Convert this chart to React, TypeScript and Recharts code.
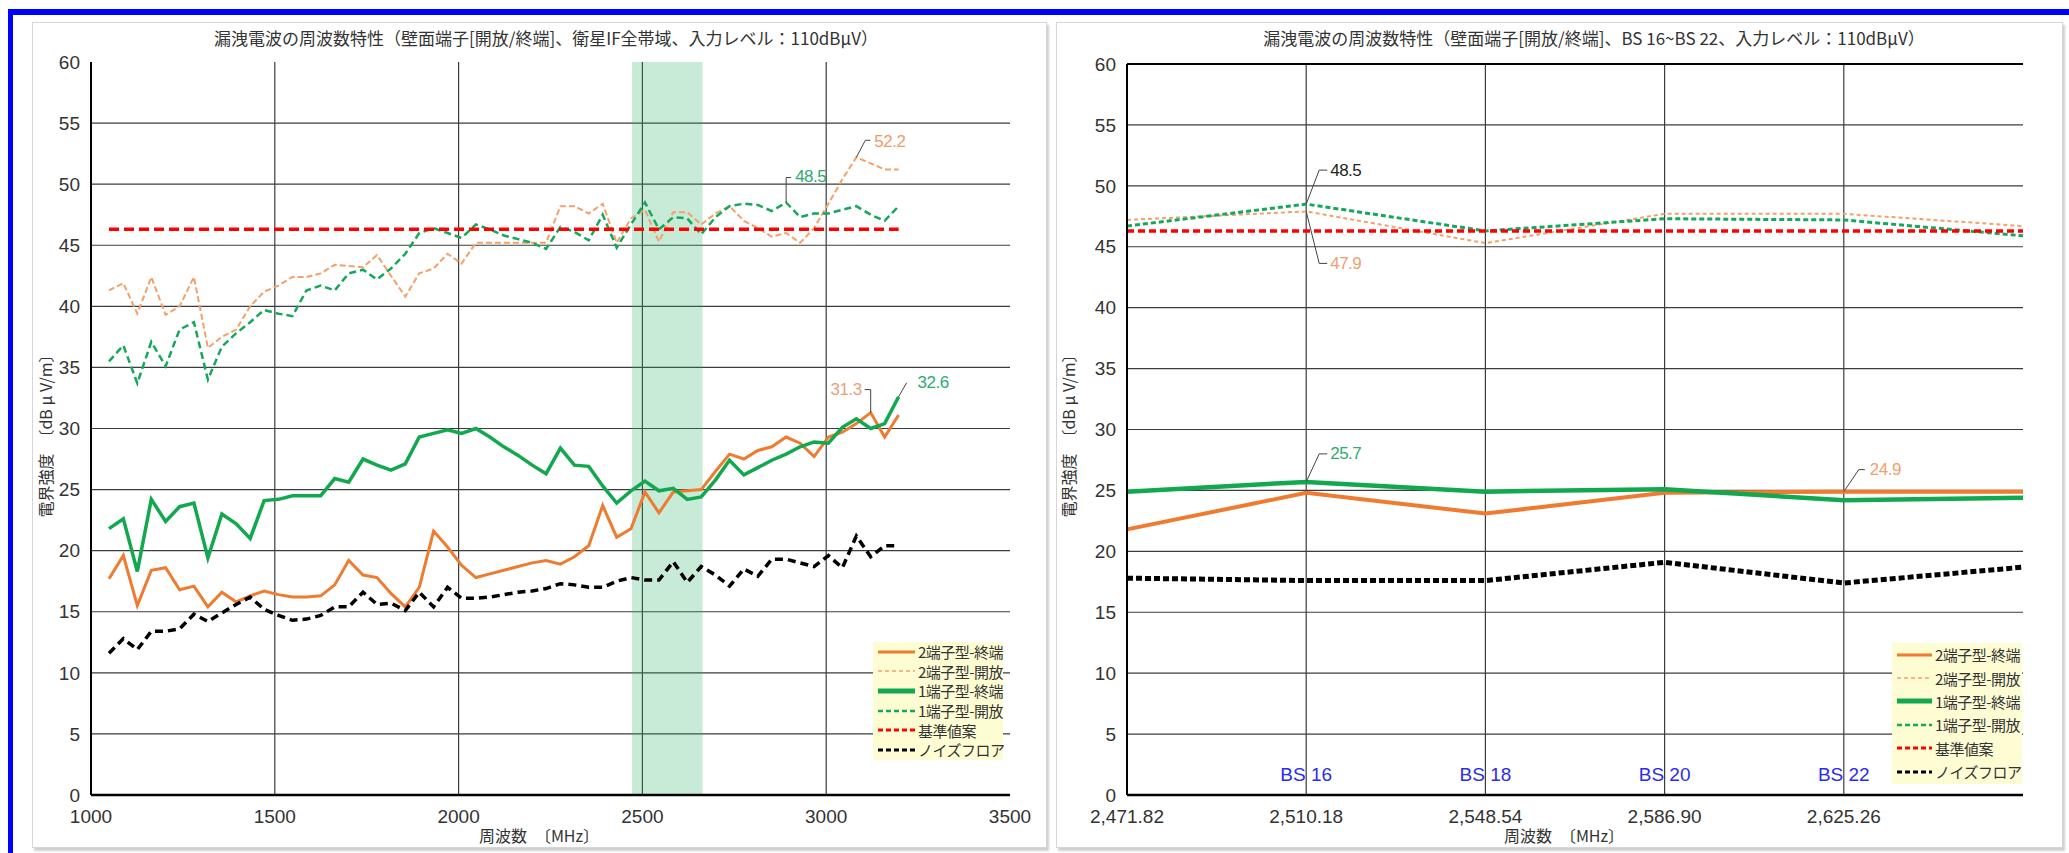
import { LineChart, Line, XAxis, YAxis, CartesianGrid, ReferenceArea, ReferenceDot, ReferenceLine, Legend } from 'recharts'

const JP = '"Noto Sans CJK JP", "Noto Sans", sans-serif'
const NUM = '"Liberation Sans", Arial, sans-serif'

// 衛星IF全帯域 (左グラフ) 測定周波数 MHz
const leftFreq = [1049, 1088, 1126, 1164, 1203, 1241, 1280, 1318, 1356, 1395, 1433, 1471, 1510, 1548, 1586, 1625, 1663, 1701, 1740, 1778, 1816, 1855, 1893, 1932, 1970, 2008, 2047, 2085, 2123, 2162, 2200, 2238, 2277, 2315, 2354, 2392, 2430, 2469, 2507, 2545, 2584, 2622, 2660, 2699, 2737, 2776, 2814, 2852, 2891, 2929, 2967, 3006, 3044, 3082, 3121, 3159, 3197]
const leftTerm2 = [17.7, 19.6, 15.5, 18.4, 18.6, 16.8, 17.1, 15.4, 16.6, 15.8, 16.3, 16.7, 16.4, 16.2, 16.2, 16.3, 17.2, 19.2, 18.0, 17.8, 16.5, 15.4, 17.0, 21.6, 20.3, 18.8, 17.8, 18.1, 18.4, 18.7, 19.0, 19.2, 18.9, 19.5, 20.4, 23.7, 21.1, 21.8, 24.8, 23.1, 24.8, 24.9, 25.0, 26.5, 27.9, 27.5, 28.2, 28.5, 29.3, 28.8, 27.7, 29.3, 29.7, 30.4, 31.3, 29.3, 31.1]
const leftOpen2 = [41.3, 41.9, 39.4, 42.4, 39.3, 40.0, 42.4, 36.6, 37.5, 38.1, 40.0, 41.2, 41.7, 42.4, 42.4, 42.7, 43.4, 43.3, 43.2, 44.2, 42.5, 40.8, 42.7, 43.1, 44.3, 43.5, 45.2, 45.2, 45.2, 45.2, 45.2, 45.2, 48.2, 48.2, 47.6, 48.4, 45.2, 47.2, 47.9, 45.3, 47.7, 47.7, 46.7, 47.6, 48.2, 47.0, 46.4, 45.7, 46.0, 45.2, 46.4, 48.4, 50.4, 52.2, 51.7, 51.2, 51.2]
const leftTerm1 = [21.8, 22.6, 18.3, 24.2, 22.4, 23.6, 23.9, 19.4, 23.0, 22.2, 21.0, 24.1, 24.2, 24.5, 24.5, 24.5, 25.9, 25.6, 27.5, 27.0, 26.6, 27.1, 29.3, 29.6, 29.9, 29.6, 30.0, 29.3, 28.5, 27.8, 27.0, 26.3, 28.4, 27.0, 26.9, 25.3, 23.9, 24.9, 25.7, 24.9, 25.1, 24.2, 24.4, 25.8, 27.4, 26.2, 26.8, 27.4, 27.9, 28.5, 28.9, 28.8, 30.1, 30.8, 30.0, 30.4, 32.6]
const leftOpen1 = [35.5, 36.8, 33.7, 37.1, 35.1, 38.1, 38.7, 34.0, 36.7, 37.8, 38.7, 39.7, 39.4, 39.2, 41.3, 41.7, 41.3, 42.7, 43.0, 42.2, 43.1, 44.3, 46.0, 46.4, 46.0, 45.6, 46.7, 46.3, 45.8, 45.5, 45.2, 44.7, 46.5, 46.1, 45.4, 47.5, 44.8, 46.7, 48.5, 46.3, 47.3, 47.2, 45.9, 47.3, 48.2, 48.4, 48.3, 47.8, 48.5, 47.3, 47.6, 47.6, 47.9, 48.2, 47.5, 47.0, 48.2]
const leftNoise = [11.6, 12.8, 11.9, 13.4, 13.4, 13.6, 14.8, 14.2, 14.9, 15.6, 16.2, 15.2, 14.7, 14.3, 14.4, 14.7, 15.4, 15.4, 16.6, 15.6, 15.7, 15.1, 16.6, 15.4, 17.0, 16.1, 16.1, 16.2, 16.4, 16.6, 16.7, 16.9, 17.3, 17.2, 17.0, 17.0, 17.5, 17.8, 17.6, 17.6, 19.1, 17.4, 18.7, 18.0, 17.1, 18.5, 17.9, 19.3, 19.3, 19.0, 18.7, 19.6, 18.6, 21.2, 19.5, 20.4, 20.4]
const standardLevel = 46.3

// BS 16〜BS 22 (右グラフ)
const rightFreq = [2471.82, 2510.18, 2548.54, 2586.9, 2625.26, 2663.62]
const rightTerm2 = [21.8, 24.8, 23.1, 24.8, 24.9, 24.9]
const rightOpen2 = [47.2, 47.9, 45.3, 47.7, 47.7, 46.7]
const rightTerm1 = [24.9, 25.7, 24.9, 25.1, 24.2, 24.4]
const rightOpen1 = [46.7, 48.5, 46.3, 47.3, 47.2, 45.9]
const rightNoise = [17.8, 17.6, 17.6, 19.1, 17.4, 18.7]

const leftTicks = [1000, 1500, 2000, 2500, 3000, 3500]
const leftGridX = [1500, 2000, 2500, 3000]
const rightTicks = [2471.82, 2510.18, 2548.54, 2586.9, 2625.26]
const rightTickLabels = ['2,471.82', '2,510.18', '2,548.54', '2,586.90', '2,625.26']
const bsNames = ['BS 16', 'BS 18', 'BS 20', 'BS 22']
const bsFreq = [2510.18, 2548.54, 2586.9, 2625.26]
const bsLabelLevel = 1.65
const yTicks = [0, 5, 10, 15, 20, 25, 30, 35, 40, 45, 50, 55, 60]
const bandRange = [2471.82, 2663.62]

const seriesNames = ['2端子型-終端', '2端子型-開放', '1端子型-終端', '1端子型-開放', '基準値案', 'ノイズフロア']
const seriesKeys = ['term2', 'open2', 'term1', 'open1', 'std', 'noise']
const seriesColors = ['#EE7B30', '#F3A06A', '#12A84F', '#13A85C', '#FF0000', '#000000']

const leftStyle = [
  { w: 3, dash: undefined },
  { w: 2, dash: '6 3' },
  { w: 3.5, dash: undefined },
  { w: 2.5, dash: '7 4' },
  { w: 3.5, dash: '10 5' },
  { w: 3.5, dash: '8 5' },
]
const rightStyle = [
  { w: 4, dash: undefined },
  { w: 2, dash: '4 3' },
  { w: 4.5, dash: undefined },
  { w: 3, dash: '5 3' },
  { w: 3.5, dash: '7 4' },
  { w: 5, dash: '6 3' },
]
const legendStyle = [
  { w: 3, dash: undefined },
  { w: 1.5, dash: '4 3' },
  { w: 5, dash: undefined },
  { w: 2.5, dash: '5 3' },
  { w: 3, dash: '5 3' },
  { w: 3, dash: '5 3' },
]

const leftData = leftFreq.map((f, i) => ({
  f,
  term2: leftTerm2[i],
  open2: leftOpen2[i],
  term1: leftTerm1[i],
  open1: leftOpen1[i],
  std: standardLevel,
  noise: leftNoise[i],
}))

const rightData = rightFreq.map((f, i) => ({
  f,
  term2: rightTerm2[i],
  open2: rightOpen2[i],
  term1: rightTerm1[i],
  open1: rightOpen1[i],
  std: standardLevel,
  noise: rightNoise[i],
}))

const tickStyle = { fontSize: 19, fill: '#333', fontFamily: NUM }

// 引き出し線付きのデータラベル
const callout = (text: string, color: string, pts: number[][], tx: number, ty: number, anchor: 'start' | 'end' = 'start') =>
  (p: any) => {
    const cx = p.cx, cy = p.cy
    const d = pts.map((q, i) => `${i ? 'L' : 'M'}${cx + q[0]},${cy + q[1]}`).join(' ')
    return (
      <g>
        <path d={d} stroke="#444" strokeWidth={1} fill="none" />
        <text x={cx + tx} y={cy + ty} fill={color} fontSize={17} fontFamily={NUM} textAnchor={anchor} dominantBaseline="central" letterSpacing={-0.5}>
          {text}
        </text>
      </g>
    )
  }

const bsLabel = (name: string) => (p: any) => (
  <text x={p.cx} y={p.cy} fill="#2B2BEE" fontSize={19} fontFamily={NUM} textAnchor="middle" dominantBaseline="central">
    {name}
  </text>
)

function LegendBox({ rowH, sampleW }: { rowH: number; sampleW: number }) {
  return (
    <div style={{ background: '#FDFCD3', paddingLeft: 5, height: '100%', boxSizing: 'border-box' }}>
      {seriesNames.map((name, i) => (
        <div key={name} style={{ display: 'flex', alignItems: 'center', height: rowH }}>
          <svg width={sampleW} height={8} style={{ flex: 'none' }}>
            <line x1={0} y1={4} x2={sampleW} y2={4} stroke={seriesColors[i]} strokeWidth={legendStyle[i].w} strokeDasharray={legendStyle[i].dash} />
          </svg>
          <span style={{ marginLeft: 3, fontSize: 15, fontFamily: JP, color: '#333', whiteSpace: 'nowrap', letterSpacing: -0.5 }}>{name}</span>
        </div>
      ))}
    </div>
  )
}

const title = (text: string, cx: number) => (
  <div style={{ position: 'absolute', left: cx, top: 37, transform: 'translate(-50%, -50%)', fontFamily: JP, fontSize: 17, color: '#333', whiteSpace: 'nowrap' }}>{text}</div>
)
const xLabel = (cx: number) => (
  <div style={{ position: 'absolute', left: cx, top: 835, transform: 'translate(-50%, -50%)', fontFamily: JP, fontSize: 16, color: '#333', whiteSpace: 'nowrap' }}>周波数　〔MHz〕</div>
)
const yLabel = (cx: number) => (
  <div style={{ position: 'absolute', left: cx, top: 432, transform: 'translate(-50%, -50%) rotate(-90deg)', fontFamily: JP, fontSize: 16, color: '#333', whiteSpace: 'nowrap' }}>電界強度　〔dB μ V/m〕</div>
)

export default function App() {
  return (
    <div style={{ position: 'relative', width: 2069, height: 853, background: '#fff', overflow: 'hidden' }}>
      <style>{'body{margin:0}'}</style>
      <div style={{ position: 'absolute', left: 8, top: 9, width: 2061, height: 6, background: '#0000FF' }} />
      <div style={{ position: 'absolute', left: 8, top: 9, width: 5, height: 844, background: '#0000FF' }} />
      <div style={{ position: 'absolute', left: 32, top: 22, width: 1013, height: 824, border: '1px solid #d6d6d6', boxShadow: '2px 3px 2px #cfcfcf' }} />
      <div style={{ position: 'absolute', left: 1056, top: 22, width: 1005, height: 824, border: '1px solid #d6d6d6', boxShadow: '2px 3px 2px #cfcfcf' }} />

      <div style={{ position: 'absolute', left: 0, top: 0 }}>
        <LineChart width={1050} height={853} data={leftData} margin={{ top: 62, right: 40, bottom: 18, left: 31 }}>
          <CartesianGrid stroke="#3c3c3c" strokeWidth={1.2} horizontalValues={yTicks.slice(1, -1)} verticalValues={leftGridX} />
          <ReferenceArea x1={bandRange[0]} x2={bandRange[1]} fill="#22B062" fillOpacity={0.25} stroke="none" />
          <XAxis dataKey="f" type="number" domain={[1000, 3500]} ticks={leftTicks} tickLine={false} tickMargin={9} height={40} axisLine={{ stroke: '#000', strokeWidth: 2.5 }} tick={tickStyle} />
          <YAxis type="number" domain={[0, 60]} ticks={yTicks} tickLine={false} tickMargin={5} width={60} axisLine={{ stroke: '#000', strokeWidth: 2 }} tick={tickStyle} />
          {seriesKeys.map((k, i) => (
            <Line key={k} dataKey={k} name={seriesNames[i]} type="linear" stroke={seriesColors[i]} strokeWidth={leftStyle[i].w} strokeDasharray={leftStyle[i].dash} dot={false} activeDot={false} isAnimationActive={false} />
          ))}
          <ReferenceDot x={leftFreq[53]} y={leftOpen2[53]} r={2} shape={callout(leftOpen2[53].toFixed(1), '#F29A64', [[0, 0], [9, -17], [14, -17]], 18, -16)} />
          <ReferenceDot x={leftFreq[48]} y={leftOpen1[48]} r={2} shape={callout(leftOpen1[48].toFixed(1), '#2DAA72', [[0, 0], [0, -25], [5, -25]], 9, -26)} />
          <ReferenceDot x={leftFreq[54]} y={leftTerm2[54]} r={2} shape={callout(leftTerm2[54].toFixed(1), '#E8A080', [[0, 0], [0, -23], [-6, -23]], -9, -23, 'end')} />
          <ReferenceDot x={leftFreq[56]} y={leftTerm1[56]} r={2} shape={callout(leftTerm1[56].toFixed(1), '#2DAA72', [[0, 0], [8, -14]], 19, -14)} />
          <Legend layout="vertical" align="center" verticalAlign="middle" wrapperStyle={{ left: 873, top: 642, width: 130, height: 118 }} content={() => <LegendBox rowH={19.6} sampleW={37} />} />
        </LineChart>
      </div>

      <div style={{ position: 'absolute', left: 1050, top: 0 }}>
        <LineChart width={1019} height={853} data={rightData} margin={{ top: 64, right: 46, bottom: 18, left: 17 }}>
          <CartesianGrid stroke="#3c3c3c" strokeWidth={1.2} horizontalValues={yTicks.slice(1)} verticalValues={bsFreq} />
          <ReferenceLine y={60} stroke="#000" strokeWidth={2} />
          <XAxis dataKey="f" type="number" domain={[bandRange[0], bandRange[1]]} ticks={rightTicks} tickFormatter={(v: number) => rightTickLabels[rightTicks.indexOf(v)] ?? ''} tickLine={false} tickMargin={9} height={40} axisLine={{ stroke: '#000', strokeWidth: 2.5 }} tick={tickStyle} />
          <YAxis type="number" domain={[0, 60]} ticks={yTicks} tickLine={false} tickMargin={5} width={60} axisLine={{ stroke: '#000', strokeWidth: 2 }} tick={tickStyle} />
          {seriesKeys.map((k, i) => (
            <Line key={k} dataKey={k} name={seriesNames[i]} type="linear" stroke={seriesColors[i]} strokeWidth={rightStyle[i].w} strokeDasharray={rightStyle[i].dash} dot={false} activeDot={false} isAnimationActive={false} />
          ))}
          {bsNames.map((n, i) => (
            <ReferenceDot key={n} x={bsFreq[i]} y={bsLabelLevel} r={2} shape={bsLabel(n)} />
          ))}
          <ReferenceDot x={rightFreq[1]} y={rightOpen1[1]} r={2} shape={callout(rightOpen1[1].toFixed(1), '#222', [[0, 0], [13, -34], [21, -34]], 24, -34)} />
          <ReferenceDot x={rightFreq[1]} y={rightOpen2[1]} r={2} shape={callout(rightOpen2[1].toFixed(1), '#F0A070', [[0, 0], [13, 52], [21, 52]], 24, 52)} />
          <ReferenceDot x={rightFreq[1]} y={rightTerm1[1]} r={2} shape={callout(rightTerm1[1].toFixed(1), '#2DAA72', [[0, 0], [13, -28], [21, -28]], 24, -28)} />
          <ReferenceDot x={rightFreq[4]} y={rightTerm2[4]} r={2} shape={callout(rightTerm2[4].toFixed(1), '#F0A070', [[0, 0], [15, -22], [21, -22]], 26, -22)} />
          <Legend layout="vertical" align="center" verticalAlign="middle" wrapperStyle={{ left: 842, top: 643, width: 130, height: 141 }} content={() => <LegendBox rowH={23.4} sampleW={35} />} />
        </LineChart>
      </div>

      {title('漏洩電波の周波数特性（壁面端子[開放/終端]、衛星IF全帯域、入力レベル：110dBμV）', 546)}
      {title('漏洩電波の周波数特性（壁面端子[開放/終端]、BS 16~BS 22、入力レベル：110dBμV）', 1594)}
      {xLabel(539)}
      {xLabel(1564)}
      {yLabel(45)}
      {yLabel(1068)}
    </div>
  )
}
